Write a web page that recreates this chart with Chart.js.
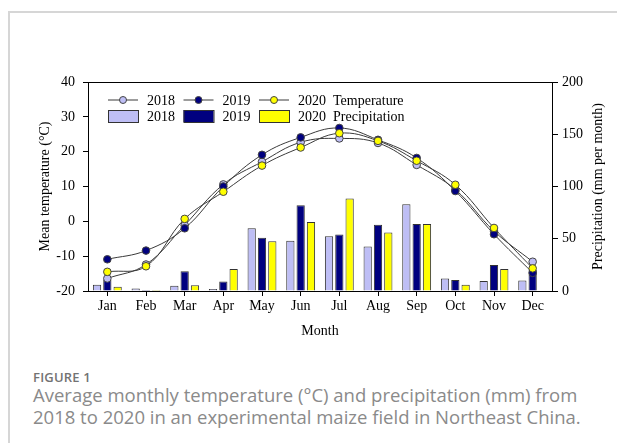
<!DOCTYPE html>
<html>
<head>
<meta charset="utf-8">
<script src="https://cdn.jsdelivr.net/npm/chart.js@4"></script>
<style>
  html, body { margin: 0; padding: 0; background: #fff; }
  body { width: 617px; height: 443px; position: relative; overflow: hidden; }
  #frame { position: absolute; left: 8px; top: 11px; width: 640px; height: 460px;
           border-left: 2px solid #d6d6d6; border-top: 2px solid #d6d6d6; }
  #wrap { position: absolute; left: 0; top: 0; width: 617px; height: 350px; }
  #caption { position: absolute; left: 33px; top: 367px; width: 570px;
             font-family: "Open Sans", "Noto Sans", sans-serif; color: #8a8a8a; }
  #caption .fig { font-size: 13px; font-weight: 600; color: #737373; letter-spacing: 0.2px; line-height: 20px; }
  #caption .txt { font-size: 18.5px; font-weight: 400; line-height: 22px; margin-top: -3px; }
</style>
</head>
<body>
<div id="frame"></div>
<div id="wrap"><canvas id="c" width="617" height="350"></canvas></div>
<div id="caption">
  <div class="fig">FIGURE 1</div>
  <div class="txt">Average monthly temperature (°C) and precipitation (mm) from 2018 to 2020 in an experimental maize field in Northeast China.</div>
</div>
<script>
// Monthly categories
const months = ['Jan','Feb','Mar','Apr','May','Jun','Jul','Aug','Sep','Oct','Nov','Dec'];

// Mean monthly temperature (°C)
const temp2018 = [-16.4, -12.4, -1.1, 10.6, 17.1, 22.7, 23.8, 22.5, 16.2, 9.1, -2.8, -11.6];
const temp2019 = [-10.9, -8.4, -2.0, 10.0, 19.1, 24.1, 26.8, 23.4, 18.2, 8.7, -3.7, -14.8];
const temp2020 = [-14.5, -12.9, 0.7, 8.5, 16.0, 21.2, 25.3, 23.1, 17.4, 10.5, -1.9, -13.5];

// Monthly precipitation (mm per month)
const prec2018 = [6, 2.5, 5, 2, 60, 48, 52.5, 42.5, 83, 12, 9.5, 10];
const prec2019 = [11, 1, 19, 9, 51, 82, 54, 63.5, 64, 10.5, 25, 20];
const prec2020 = [4, 1, 5.5, 21, 47.5, 66, 88.5, 56, 64, 6, 21, 0];

// Axis ranges and tick steps
const tempRange = [-20, 40], tempStep = 10;
const precRange = [0, 200], precStep = 50;

const years = ['2018', '2019', '2020'];
const fills = ['#BEBEF5', '#00007F', '#FFFF00'];
const edge = '#333333';
const serif = '"Liberation Serif", "DejaVu Serif", serif';
const precTitle = 'Precipitation (mm per month)';

const lineSets = [temp2018, temp2019, temp2020].map((vals, i) => ({
  type: 'line',
  label: years[i],
  data: vals,
  yAxisID: 'yT',
  borderColor: '#3a3a3a',
  borderWidth: 1,
  tension: 0.4,
  pointRadius: 3.8,
  pointBorderWidth: 1,
  pointBorderColor: '#444',
  pointBackgroundColor: fills[i],
  order: 2 - i
}));

const barSets = [prec2018, prec2019, prec2020].map((vals, i) => ({
  type: 'bar',
  label: years[i],
  data: vals,
  yAxisID: 'yP',
  backgroundColor: fills[i],
  borderColor: edge,
  borderWidth: 1,
  categoryPercentage: 0.8,
  barPercentage: 0.8,
  order: 5
}));

// Two-row legend drawn inside the plot: temperature markers, then precipitation boxes
const legendRows = { lineSuffix: 'Temperature', barSuffix: 'Precipitation' };
const twoRowLegend = {
  id: 'twoRowLegend',
  afterDraw(chart) {
    const ctx = chart.ctx;
    const a = chart.chartArea;
    const x0 = a.left + 20, step = 75.5, row1 = a.top + 18, row2 = a.top + 34;
    ctx.save();
    ctx.font = '14px ' + serif;
    ctx.textBaseline = 'middle';
    ctx.fillStyle = '#000';
    const lines = chart.data.datasets.filter(d => d.type === 'line');
    const bars = chart.data.datasets.filter(d => d.type === 'bar');
    lines.forEach((d, i) => {
      const x = x0 + i * step;
      ctx.strokeStyle = d.borderColor; ctx.lineWidth = 1;
      ctx.beginPath(); ctx.moveTo(x, row1); ctx.lineTo(x + 30, row1); ctx.stroke();
      ctx.beginPath(); ctx.arc(x + 15, row1, 3.5, 0, Math.PI * 2);
      ctx.fillStyle = d.pointBackgroundColor; ctx.fill();
      ctx.strokeStyle = d.pointBorderColor; ctx.stroke();
      ctx.fillStyle = '#000';
      ctx.fillText(d.label + (i === lines.length - 1 ? '  ' + legendRows.lineSuffix : ''), x + 39, row1 + 1);
    });
    bars.forEach((d, i) => {
      const x = x0 + i * step;
      ctx.fillStyle = d.backgroundColor;
      ctx.fillRect(x, row2 - 6, 30, 12);
      ctx.strokeStyle = d.borderColor; ctx.lineWidth = 1;
      ctx.strokeRect(x + 0.5, row2 - 5.5, 30, 12);
      ctx.fillStyle = '#000';
      ctx.fillText(d.label + (i === bars.length - 1 ? '  ' + legendRows.barSuffix : ''), x + 39, row2 + 1);
    });
    ctx.restore();
  }
};

// Top border of the plot box and the right-hand axis title (reading bottom to top)
const boxExtras = {
  id: 'boxExtras',
  afterDraw(chart) {
    const { ctx, chartArea: a } = chart;
    ctx.save();
    ctx.strokeStyle = '#000'; ctx.lineWidth = 1;
    ctx.beginPath(); ctx.moveTo(a.left, a.top + 0.5); ctx.lineTo(a.right, a.top + 0.5); ctx.stroke();
    ctx.translate(598, (a.top + a.bottom) / 2);
    ctx.rotate(-Math.PI / 2);
    ctx.font = '14px ' + serif;
    ctx.fillStyle = '#000';
    ctx.textAlign = 'center';
    ctx.textBaseline = 'middle';
    ctx.fillText(precTitle, 0, 0);
    ctx.restore();
  }
};

const tickFont = { family: serif, size: 14 };
const titleFont = { family: serif, size: 14 };

new Chart(document.getElementById('c'), {
  data: { labels: months, datasets: [...lineSets, ...barSets] },
  options: {
    responsive: false,
    animation: false,
    layout: { padding: { top: 82, left: 0, right: 0, bottom: 0 } },
    plugins: { legend: { display: false }, tooltip: { enabled: false } },
    scales: {
      x: {
        type: 'category',
        offset: true,
        grid: { display: true, offset: false, drawOnChartArea: false, drawTicks: true, tickLength: 5, tickColor: '#000' },
        border: { display: true, color: '#000', width: 1 },
        ticks: { color: '#000', font: tickFont, padding: 2, maxRotation: 0, autoSkip: false },
        title: { display: true, text: 'Month', color: '#000', font: titleFont, padding: { top: 0, bottom: 10 } },
        afterFit(s) { s.height = 59; }
      },
      yT: {
        type: 'linear',
        position: 'left',
        min: tempRange[0], max: tempRange[1],
        grid: { display: true, drawOnChartArea: false, drawTicks: true, tickLength: 5, tickColor: '#000' },
        border: { display: true, color: '#000', width: 1 },
        ticks: { stepSize: tempStep, color: '#000', font: tickFont, padding: 8 },
        title: { display: true, text: 'Mean temperature (°C)', color: '#000', font: titleFont, padding: { top: 37, bottom: 0 } },
        afterFit(s) { s.width = 88; }
      },
      yP: {
        type: 'linear',
        position: 'right',
        min: precRange[0], max: precRange[1],
        grid: { display: true, drawOnChartArea: false, drawTicks: true, tickLength: 6, tickColor: '#000' },
        border: { display: true, color: '#000', width: 1 },
        ticks: { stepSize: precStep, color: '#000', font: tickFont, padding: 4 },
        title: { display: false },
        afterFit(s) { s.width = 65; }
      }
    }
  },
  plugins: [twoRowLegend, boxExtras]
});
</script>
</body>
</html>
